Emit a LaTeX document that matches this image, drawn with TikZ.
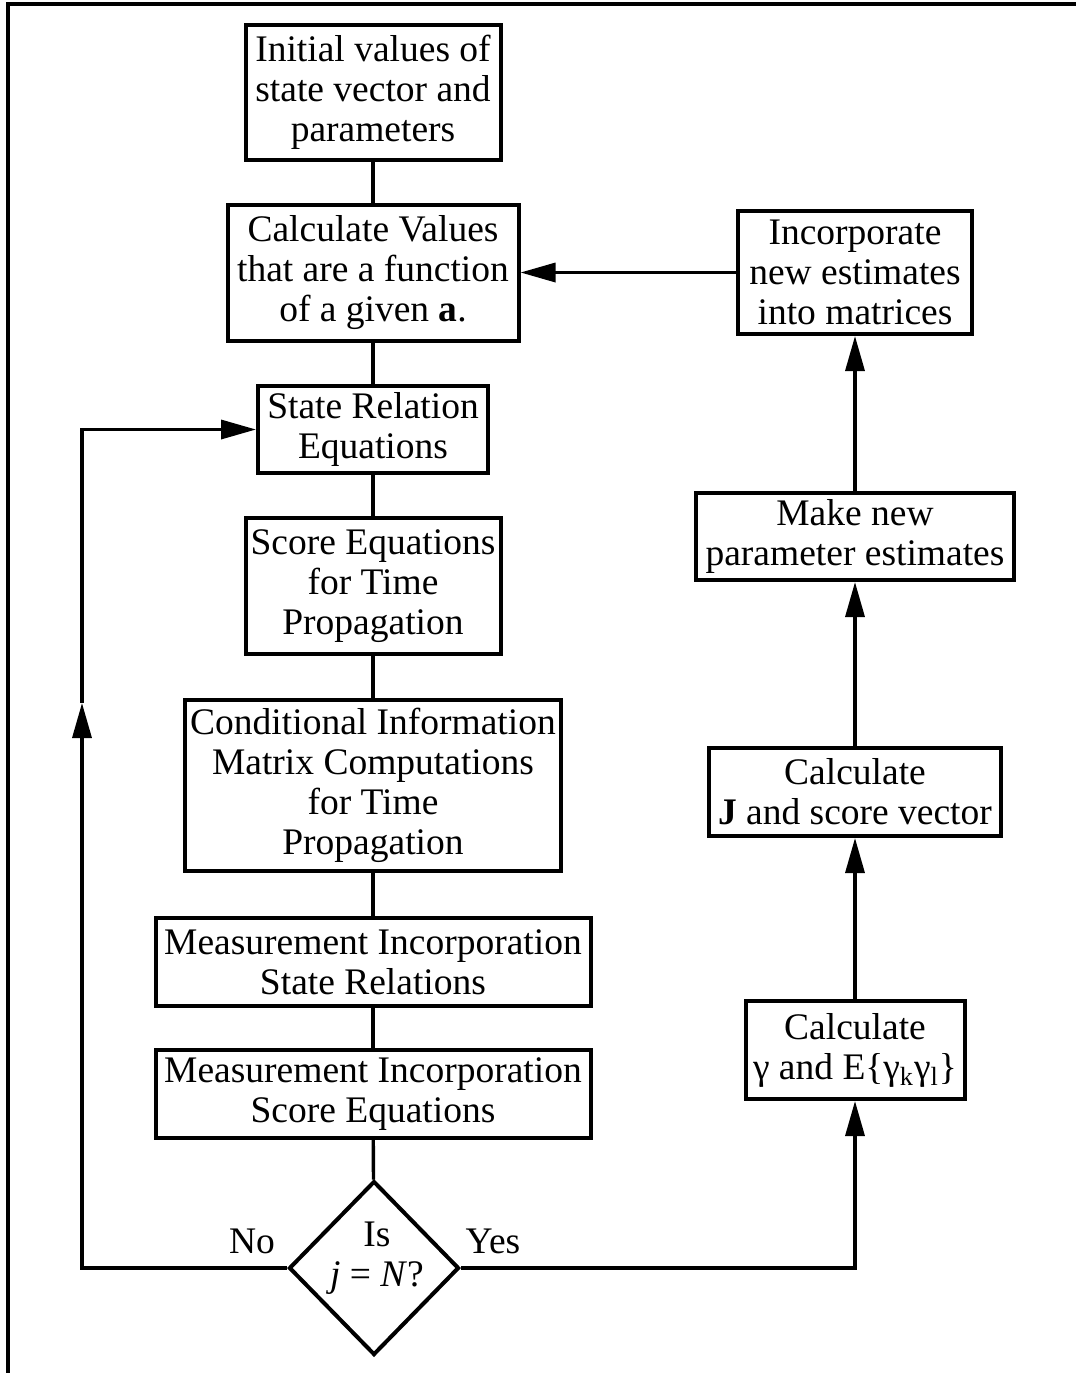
\documentclass[tikz,border=0pt]{standalone}
\usepackage{fontspec}
\setmainfont{Liberation Serif}
\usetikzlibrary{arrows.meta,shapes.geometric}
\begin{document}
\begin{tikzpicture}[x=0.5pt,y=-0.5pt,
  box/.style={draw,line width=2pt,align=center,inner sep=0pt,
    font=\fontsize{18.75}{20}\selectfont},
  lbl/.style={inner sep=0pt,align=center,font=\fontsize{18.75}{20}\selectfont},
  conn/.style={line width=1.7pt},
  arr/.style={line width=1.7pt,-{Triangle[length=17.5pt,width=9.5pt]}}]
\useasboundingbox (0,0) rectangle (1076,1373);
% frame (top and left only)
\draw[line width=2.2pt] (1076,4) -- (8,4) -- (8,1373);

% central column
\node[box,minimum width=127.5pt,minimum height=67.5pt] (b1) at (373,92.5)
  {Initial values of\\state vector and\\parameters};
\node[box,minimum width=145.5pt,minimum height=68pt] (b2) at (373,272.5)
  {Calculate Values\\that are a function\\of a given \textbf{a}.};
\node[box,minimum width=115pt,minimum height=43.5pt] (sr) at (373,429.5)
  {State Relation\\Equations};
\node[box,minimum width=127.5pt,minimum height=68pt] (se) at (373,586)
  {Score Equations\\for Time\\Propagation};
\node[box,minimum width=188pt,minimum height=85.5pt] (ci) at (373,785.5)
  {Conditional Information\\Matrix Computations\\for Time\\Propagation};
\node[box,minimum width=217.5pt,minimum height=44pt] (ms) at (373,962)
  {Measurement Incorporation\\State Relations};
\node[box,minimum width=217.5pt,minimum height=44pt] (mse) at (373,1094)
  {Measurement Incorporation\\Score Equations};
\node[draw,diamond,line width=2pt,inner sep=0pt,minimum width=85pt,minimum height=87pt] (d) at (374,1268) {};
\node[lbl] (dt) at (377,1258) {Is\\\textit{j} = \textit{N}?};

% right column
\node[box,minimum width=117pt,minimum height=61.5pt] (inc) at (855,272.5)
  {Incorporate\\new estimates\\into matrices};
\node[box,minimum width=159pt,minimum height=43.5pt] (mn) at (855,536.5)
  {Make new\\parameter estimates};
\node[box,minimum width=146pt,minimum height=44pt] (cj) at (855,792)
  {Calculate\\\textbf{J} and score vector};
\node[box,minimum width=109.5pt,minimum height=49pt] (cg) at (855,1050)
  {Calculate\\γ and E\{γ\textsubscript{k}γ\textsubscript{l}\}};

% labels
\node[lbl] (no) at (252,1241) {No};
\node[lbl] (yes) at (493,1241) {Yes};

% central connectors
\draw[conn] (b1) -- (b2);
\draw[conn] (b2) -- (sr);
\draw[conn] (sr) -- (se);
\draw[conn] (se) -- (ci);
\draw[conn] (ci) -- (ms);
\draw[conn] (ms) -- (mse);
\draw[conn] (mse) -- (d);

% loop back (No)
\coordinate (lx) at (82,703);
\draw[arr] (d.west) -| (lx);
\draw[arr] (lx) |- (sr.west);

% Yes branch and right column
\draw[arr] (d.east) -| (cg.south);
\draw[arr] (cg) -- (cj);
\draw[arr] (cj) -- (mn);
\draw[arr] (mn) -- (inc);
\draw[arr] (inc) -- (b2);
\end{tikzpicture}
\end{document}
